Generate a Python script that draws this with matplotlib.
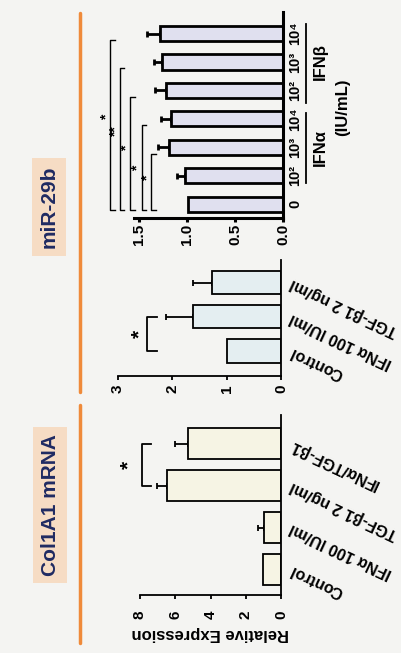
import numpy as np
import matplotlib.pyplot as plt

plt.rcParams['font.family'] = ['Liberation Sans', 'DejaVu Sans']
plt.rcParams['font.weight'] = 'bold'
plt.rcParams['axes.labelweight'] = 'bold'

# Col1A1 mRNA
col_labels = ['Control', 'IFN\u03b1 100 IU/ml', 'TGF-\u03b21 2 ng/ml', 'IFN\u03b1/TGF-\u03b21']
col_vals = np.array([1.0, 0.95, 6.45, 5.3])
col_err = np.array([0.0, 0.35, 0.6, 0.7])

# miR-29b, single dose
mir_labels = ['Control', 'IFN\u03b1 100 IU/ml', 'TGF-\u03b21 2 ng/ml']
mir_vals = np.array([1.0, 1.61, 1.26])
mir_err = np.array([0.0, 0.5, 0.35])

# miR-29b, dose response
dose_labels = ['0', '10\u00b2', '10\u00b3', '10\u2074', '10\u00b2', '10\u00b3', '10\u2074']
dose_vals = np.array([0.99, 1.02, 1.19, 1.17, 1.22, 1.26, 1.28])
dose_err = np.array([0.0, 0.08, 0.11, 0.10, 0.11, 0.08, 0.13])
# (top bar index, bracket value, star text, star position)
dose_sig = [(6, 1.80, '*', 3.06), (5, 1.70, '**', 2.54), (4, 1.59, '*', 1.97),
            (3, 1.47, '*', 1.27), (2, 1.37, '*', 0.92)]

W, H = 401, 653
fig = plt.figure(figsize=(W / 100, H / 100), dpi=100)
fig.patch.set_facecolor('#f4f4f2')


def px_axes(x0, x1, y0, y1):
    # image pixel box (y down) -> axes
    return fig.add_axes([x0 / W, 1 - y1 / H, (x1 - x0) / W, (y1 - y0) / H])


def style(ax, lw):
    ax.set_facecolor('none')
    for s in ['top', 'left']:
        ax.spines[s].set_visible(False)
    ax.spines['bottom'].set_linewidth(lw)
    ax.spines['right'].set_linewidth(lw)
    ax.yaxis.tick_right()
    ax.tick_params(axis='y', length=0)
    ax.tick_params(axis='x', length=3, width=lw, direction='out')


def bars(ax, vals, err, color, lw, height, cap):
    y = np.arange(len(vals))
    ax.barh(y, vals, height=height, color=color, edgecolor='black', linewidth=lw, zorder=2)
    m = err > 0
    ax.errorbar(vals[m], y[m], xerr=[np.zeros(m.sum()), err[m]], fmt='none',
                ecolor='black', elinewidth=lw, capsize=cap, capthick=lw, zorder=1)
    return y


# --- Col1A1 panel ---
ax1 = px_axes(140, 281, 415, 595)
style(ax1, 1.3)
y1 = bars(ax1, col_vals, col_err, '#f6f4e4', 1.3, 0.74, 2.5)
ax1.set_xlim(8, 0)
ax1.set_ylim(-0.61, 3.69)
ax1.set_xticks([0, 2, 4, 6, 8])
ax1.set_xticklabels(['0', '2', '4', '6', '8'], rotation=90, fontsize=11)
ax1.tick_params(axis='x', pad=8)
ax1.set_yticks(y1)
ax1.set_yticklabels(col_labels, rotation=155, rotation_mode='anchor',
                    ha='right', va='center', fontsize=11.5)
ax1.tick_params(axis='y', pad=7)
ax1.set_xlabel('Relative Expression', rotation=180, fontsize=12, labelpad=5)
ax1.plot([7.35, 7.9, 7.9, 7.35], [2, 2, 3, 3], color='black', lw=1.3, clip_on=False)
ax1.text(8.65, 2.5, '*', fontsize=15, ha='center', va='center', rotation=90)

# --- miR-29b single dose panel ---
ax2 = px_axes(117.7, 281, 260, 376)
style(ax2, 1.3)
y2 = bars(ax2, mir_vals, mir_err, '#e4eef1', 1.3, 0.68, 2.5)
ax2.set_xlim(3, 0)
ax2.set_ylim(-0.73, 2.66)
ax2.set_xticks([0, 1, 2, 3])
ax2.set_xticklabels(['0', '1', '2', '3'], rotation=90, fontsize=11)
ax2.tick_params(axis='x', pad=3)
ax2.set_yticks(y2)
ax2.set_yticklabels(mir_labels, rotation=155, rotation_mode='anchor',
                    ha='right', va='center', fontsize=11.5)
ax2.tick_params(axis='y', pad=7)
ax2.plot([2.28, 2.46, 2.46, 2.28], [0, 0, 1, 1], color='black', lw=1.3, clip_on=False)
ax2.text(2.6, 0.5, '*', fontsize=15, ha='center', va='center', rotation=90)

# --- miR-29b dose response panel ---
ax3 = px_axes(134, 283, 12, 218)
style(ax3, 2.2)
y3 = bars(ax3, dose_vals, dose_err, '#e0e0ef', 2.0, 0.53, 2)
ax3.set_xlim(1.55, 0)
ax3.set_ylim(-0.49, 6.76)
ax3.set_xticks([0, 0.5, 1.0, 1.5])
ax3.set_xticklabels(['0.0', '0.5', '1.0', '1.5'], rotation=90, fontsize=11)
ax3.tick_params(axis='x', pad=1)
ax3.set_yticks(y3)
ax3.set_yticklabels(dose_labels, rotation=90, ha='left', va='center', fontsize=10.5)
ax3.tick_params(axis='y', pad=4)
for top, xv, star, sy in dose_sig:
    ax3.plot([xv - 0.05, xv, xv, xv - 0.05], [-0.22, -0.22, top - 0.22, top - 0.22],
             color='black', lw=1.0, clip_on=False)
    ax3.text(xv + 0.04, sy, star, fontsize=10, ha='center', va='center',
             rotation=90, linespacing=0.6)
ax3.plot([-0.24, -0.24], [0.75, 3.2], color='black', lw=1.3, clip_on=False)
ax3.plot([-0.24, -0.24], [3.55, 6.35], color='black', lw=1.3, clip_on=False)
ax3.text(-0.385, 2.0, 'IFN\u03b1', rotation=90, fontsize=12, ha='center', va='center')
ax3.text(-0.385, 5.0, 'IFN\u03b2', rotation=90, fontsize=12, ha='center', va='center')
ax3.text(-0.625, 3.42, '(IU/mL)', rotation=90, fontsize=12, ha='center', va='center')

# --- titles and orange separators ---
navy = '#1f2a62'
box = dict(boxstyle='square,pad=0.35', facecolor='#f6dcc4', edgecolor='none')
fig.text(50 / W, 1 - 505 / H, 'Col1A1 mRNA', rotation=90, fontsize=15, color=navy,
         ha='center', va='center', bbox=box)
fig.text(49 / W, 1 - 207 / H, 'miR-29b', rotation=90, fontsize=15, color=navy,
         ha='center', va='center', bbox=box)
fig.add_artist(plt.Line2D([80 / W, 80 / W], [1 - 13 / H, 1 - 392 / H],
                          color='#ef8a3a', lw=2.5, solid_capstyle='round'))
fig.add_artist(plt.Line2D([80 / W, 80 / W], [1 - 405 / H, 1 - 643 / H],
                          color='#ef8a3a', lw=2.5, solid_capstyle='round'))

fig.savefig('out.png', dpi=100, facecolor=fig.get_facecolor())
